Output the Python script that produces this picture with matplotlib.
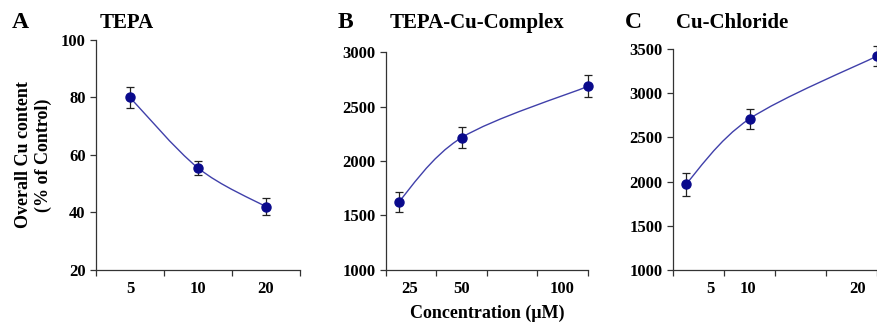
import numpy as np
import matplotlib
matplotlib.use("Agg")
import matplotlib.pyplot as plt
from matplotlib.path import Path
from matplotlib.patches import PathPatch

plt.rcParams["font.family"] = ["Liberation Serif", "DejaVu Serif"]
plt.rcParams["font.weight"] = "bold"

# data
tepa_conc = ["5", "10", "20"]
tepa_val = [80, 55.5, 42]
tepa_err = [3.5, 2.5, 3]

complex_conc = [25, 50, 100]
complex_val = [1625, 2215, 2685]
complex_err = [90, 100, 100]

chloride_conc = [5, 10, 20]
chloride_val = [1970, 2710, 3420]
chloride_err = [130, 115, 110]

marker_col = "#0a0a8c"
line_col = "#4040aa"


def smooth_line(ax, x, y):
    # excel-like smoothed line, done in axes coords
    pts = ax.transLimits.transform(np.column_stack([x, y]))
    n = len(pts)
    verts = [pts[0]]
    codes = [Path.MOVETO]
    for i in range(n - 1):
        p0 = pts[i - 1] if i > 0 else pts[i]
        p1, p2 = pts[i], pts[i + 1]
        p3 = pts[i + 2] if i + 2 < n else pts[i + 1]
        c1 = p1 + (p2 - p0) / 6
        c2 = p2 - (p3 - p1) / 6
        verts += [c1, c2, p2]
        codes += [Path.CURVE4] * 3
    ax.add_patch(PathPatch(Path(verts, codes), transform=ax.transAxes,
                           fill=False, color=line_col, lw=1.0, clip_on=False))


def style(ax):
    for s in ["top", "right"]:
        ax.spines[s].set_visible(False)
    for s in ["left", "bottom"]:
        ax.spines[s].set_color("#333333")
        ax.spines[s].set_linewidth(0.9)
    ax.tick_params(axis="both", which="major", direction="out", length=4,
                   width=0.9, color="#333333", labelsize=12)
    ax.tick_params(axis="x", which="major", labelbottom=False)
    ax.tick_params(axis="x", which="minor", length=0, labelsize=12, pad=8)
    for lab in ax.get_yticklabels() + ax.get_xticklabels(minor=True):
        lab.set_fontweight("bold")


def points(ax, x, y, e):
    ax.errorbar(x, y, yerr=e, fmt="none", ecolor="#222222", elinewidth=0.9,
                capsize=3, capthick=0.9, clip_on=False, zorder=3)
    ax.plot(x, y, "o", color=marker_col, ms=6.5, clip_on=False, zorder=4)


fig = plt.figure(figsize=(8.78, 3.22), dpi=100)

# A
axA = fig.add_axes([0.1093, 0.1615, 0.2324, 0.7143])
xa = np.arange(len(tepa_val))
axA.set_xlim(-0.5, 2.5)
axA.set_ylim(20, 100)
axA.set_yticks([20, 40, 60, 80, 100])
axA.set_xticks([-0.5, 0.5, 1.5, 2.5])
axA.set_xticks(xa, tepa_conc, minor=True)
style(axA)
smooth_line(axA, xa, tepa_val)
points(axA, xa, tepa_val, tepa_err)
axA.set_ylabel("Overall Cu content\n(% of Control)", fontsize=13,
               fontweight="bold", labelpad=6)

# B
axB = fig.add_axes([0.4396, 0.1615, 0.2301, 0.6770])
axB.set_xlim(20, 100)
axB.set_ylim(1000, 3000)
axB.set_yticks([1000, 1500, 2000, 2500, 3000])
axB.set_xticks([20, 40, 60, 80, 100])
axB.set_xticks([29.3, 50, 89.8], [str(c) for c in complex_conc], minor=True)
style(axB)
smooth_line(axB, complex_conc, complex_val)
points(axB, complex_conc, complex_val, complex_err)

# C
axC = fig.add_axes([0.7665, 0.1615, 0.2324, 0.6863])
axC.set_xlim(4, 20)
axC.set_ylim(1000, 3500)
axC.set_yticks([1000, 1500, 2000, 2500, 3000, 3500])
axC.set_xticks([4, 8, 12, 16, 20])
axC.set_xticks([6.9, 9.9, 18.5], [str(c) for c in chloride_conc], minor=True)
style(axC)
smooth_line(axC, chloride_conc, chloride_val)
points(axC, chloride_conc, chloride_val, chloride_err)

# panel letters and titles
fig.text(0.013, 0.93, "A", fontsize=17, fontweight="bold", va="center")
fig.text(0.114, 0.93, "TEPA", fontsize=15, fontweight="bold", va="center")
fig.text(0.385, 0.93, "B", fontsize=17, fontweight="bold", va="center")
fig.text(0.444, 0.93, "TEPA-Cu-Complex", fontsize=15, fontweight="bold", va="center")
fig.text(0.712, 0.93, "C", fontsize=17, fontweight="bold", va="center")
fig.text(0.770, 0.93, "Cu-Chloride", fontsize=15, fontweight="bold", va="center")

fig.text(0.555, 0.028, "Concentration (\u03bcM)", fontsize=13, fontweight="bold",
         ha="center", va="center")

fig.savefig("out.png", dpi=100)
